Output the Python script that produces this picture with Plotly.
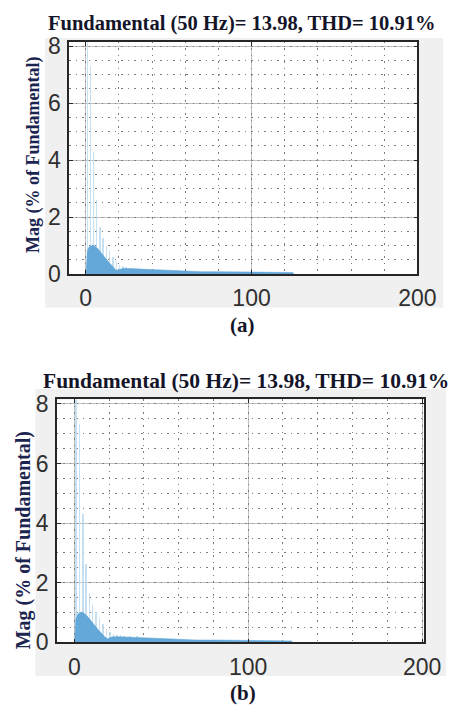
import plotly.graph_objects as go

# ---------------- data ----------------
title_text = "Fundamental (50 Hz)= 13.98, THD= 10.91%"
y_label = "Mag (% of Fundamental)"
panel_labels = ["(a)", "(b)"]

# dense interharmonic spectrum envelope (harmonic order, % of fundamental)
env_x = [0.2, 0.5, 1, 2, 3, 4, 5, 6, 7, 8, 9, 10, 11, 12, 13, 14, 15, 16, 17,
         18, 19, 20, 22, 26, 30, 35, 40, 45, 50, 55, 60, 70, 80, 90, 100, 110,
         120, 125, 125.5]
env_y = [0.0, 0.55, 0.8, 0.95, 1.0, 1.02, 1.0, 0.96, 0.91, 0.84, 0.76, 0.69,
         0.62, 0.55, 0.48, 0.41, 0.34, 0.27, 0.21, 0.16, 0.12, 0.15, 0.19,
         0.19, 0.18, 0.17, 0.15, 0.13, 0.12, 0.1, 0.09, 0.08, 0.08, 0.07, 0.07,
         0.06, 0.06, 0.05, 0.0]

# individual light spectral lines
spike_x = [1, 2.9, 4.8, 6.7, 8.7, 10.5, 12.5, 14.5, 16.5, 18.5, 20.5, 22.5,
           24.5, 26.5, 28.5, 32, 36]
spike_y = [100, 7.3, 4.3, 2.6, 1.65, 1.25, 1.0, 0.8, 0.6, 0.45, 0.33, 0.28,
           0.24, 0.22, 0.2, 0.2, 0.19]

x_ticks = [0, 100, 200]
y_ticks = [0, 2, 4, 6, 8]

# ---------------- figure ----------------
W, H = 469, 722
fig = go.Figure()

panels = [
    dict(xd=(72, 435), yd=(34, 273.3), xr=[-10, 200],
         box=(47, 30, 462, 308), title_y=15, title_x=252, title_size=20.5,
         lab_y=326, ylab_x=35, ylab_y=150, ylab_size=18),
    dict(xd=(59.3, 441.7), yd=(402.7, 653.3), xr=[-10, 201],
         box=(37, 392, 465, 688), title_y=384, title_x=256, title_size=21.5,
         lab_y=705, ylab_x=24, ylab_y=548, ylab_size=20),
]

shapes = []
annotations = []
for i, p in enumerate(panels):
    sfx = "" if i == 0 else str(i + 1)
    xa = "x" + sfx
    ya = "y" + sfx
    fig.add_trace(go.Bar(x=spike_x, y=spike_y, width=0.9,
                         marker=dict(color="rgba(185,218,240,0.8)", line=dict(width=0)),
                         xaxis=xa, yaxis=ya, showlegend=False, hoverinfo="skip"))
    fig.add_trace(go.Scatter(x=env_x, y=env_y, mode="lines", fill="tozeroy",
                             line=dict(color="rgb(95,165,215)", width=0.5),
                             fillcolor="rgb(100,168,218)",
                             xaxis=xa, yaxis=ya, showlegend=False, hoverinfo="skip"))
    axis_common = dict(showline=True, mirror="ticks", linecolor="#262626", linewidth=1.5,
                       ticks="inside", ticklen=4, tickcolor="#262626", tickwidth=1.2,
                       showgrid=True, gridcolor="rgba(130,130,130,0.5)", gridwidth=1,
                       zeroline=False,
                       tickfont=dict(family="Liberation Sans, Arial, sans-serif",
                                     size=23, color="#303030"))
    xd = [p["xd"][0] / W, p["xd"][1] / W]
    yd = [1 - p["yd"][1] / H, 1 - p["yd"][0] / H]
    fig.layout["xaxis" + sfx] = dict(axis_common, domain=xd, range=p["xr"],
                                     tickvals=x_ticks, anchor=ya,
                                     ticklabelstandoff=3,
                                     minor=dict(dtick=20, tick0=0, showgrid=True,
                                                griddash="1.5px,5px", gridcolor="rgba(100,100,100,0.85)",
                                                gridwidth=1.3, ticks=""))
    fig.layout["yaxis" + sfx] = dict(axis_common, domain=yd, range=[0, 8.15],
                                     tickvals=y_ticks, anchor=xa,
                                     ticklabelstandoff=2,
                                     minor=dict(dtick=0.5, tick0=0, showgrid=True,
                                                griddash="1.5px,5px", gridcolor="rgba(100,100,100,0.85)",
                                                gridwidth=1.3, ticks=""))
    bx0, by0, bx1, by1 = p["box"]
    shapes.append(dict(type="rect", xref="paper", yref="paper",
                       x0=bx0 / W, x1=bx1 / W, y0=1 - by1 / H, y1=1 - by0 / H,
                       fillcolor="#f0f0f0", line=dict(width=0), layer="below"))
    shapes.append(dict(type="rect", xref="paper", yref="paper",
                       x0=xd[0], x1=xd[1], y0=yd[0], y1=yd[1],
                       fillcolor="white", line=dict(width=0), layer="below"))
    annotations.append(dict(text="<b>" + title_text + "</b>", xref="paper", yref="paper",
                            x=p["title_x"] / W, y=1 - p["title_y"] / H,
                            xanchor="center", yanchor="middle", showarrow=False,
                            font=dict(family="Liberation Serif, Times New Roman, serif",
                                      size=p["title_size"], color="#15152a")))
    annotations.append(dict(text="<b>" + panel_labels[i] + "</b>", xref="paper", yref="paper",
                            x=253 / W, y=1 - p["lab_y"] / H,
                            xanchor="center", yanchor="middle", showarrow=False,
                            font=dict(family="Liberation Serif, Times New Roman, serif",
                                      size=21, color="#15152a")))
    annotations.append(dict(text="<b>" + y_label + "</b>", xref="paper", yref="paper",
                            x=p["ylab_x"] / W, y=1 - p["ylab_y"] / H, textangle=-90,
                            xanchor="center", yanchor="middle", showarrow=False,
                            font=dict(family="Liberation Serif, Times New Roman, serif",
                                      size=p["ylab_size"], color="#1c2450")))

fig.update_layout(width=W, height=H, margin=dict(l=0, r=0, t=0, b=0),
                  paper_bgcolor="white", plot_bgcolor="white",
                  bargap=0, shapes=shapes, annotations=annotations)

fig.write_html("out.html")
